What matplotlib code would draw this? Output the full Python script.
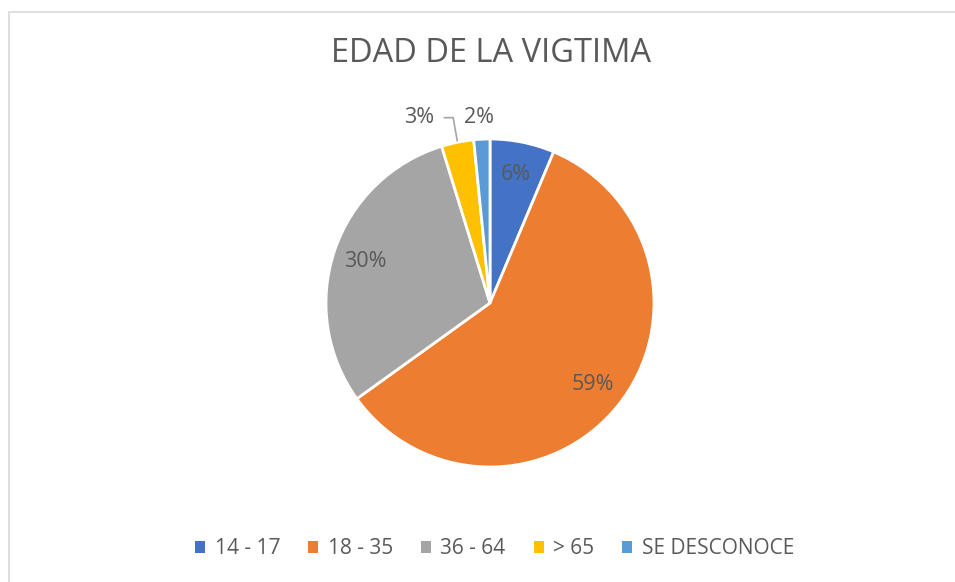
import matplotlib.pyplot as plt
import numpy as np
from matplotlib.patches import Patch, Rectangle

# Data (counts read as percentages 6/59/30/3/2)
categories = ["14 - 17", "18 - 35", "36 - 64", "> 65", "SE DESCONOCE"]
counts = [4, 37, 19, 2, 1]
colors = ["#4472C4", "#ED7D31", "#A5A5A5", "#FFC000", "#5B9BD5"]
text_color = "#595959"

plt.rcParams['font.family'] = ['Open Sans', 'DejaVu Sans']

fig = plt.figure(figsize=(9.55, 5.82), dpi=100)

# chart area border (Excel-style frame)
fig.patches.append(Rectangle((9 / 955, -0.1), 1.2, 1 - 12 / 582 + 0.1, transform=fig.transFigure,
                             fill=False, edgecolor="#D9D9D9", linewidth=1.2))

ax = fig.add_axes([326 / 955, 1 - 467 / 582, 328 / 955, 328 / 582])
wedges, _ = ax.pie(counts, colors=colors, startangle=90, counterclock=False,
                   wedgeprops=dict(edgecolor="white", linewidth=2))
ax.set_xlim(-1, 1)
ax.set_ylim(-1, 1)
ax.set_aspect("equal")
ax.axis("off")

total = sum(counts)
pcts = [round(c / total * 100) for c in counts]

# inside labels for the bigger slices
for w, p in zip(wedges[:3], pcts[:3]):
    ang = np.deg2rad((w.theta1 + w.theta2) / 2)
    ax.text(0.8 * np.cos(ang), 0.8 * np.sin(ang), f"{p}%", ha="center", va="center",
            fontsize=15.5, color=text_color)

# outside labels for the small slices
w3, w4 = wedges[3], wedges[4]
ang3 = np.deg2rad((w3.theta1 + w3.theta2) / 2)
ax.annotate(f"{pcts[3]}%", xy=(np.cos(ang3), np.sin(ang3)), xytext=(-0.43, 1.13),
            ha="center", va="center", fontsize=15.5, color=text_color,
            arrowprops=dict(arrowstyle="-", color="#A5A5A5", lw=1.2,
                            connectionstyle="angle,angleA=0,angleB=100,rad=0",
                            shrinkA=5, shrinkB=1, relpos=(1, 0.5)),
            annotation_clip=False)
ax.text(-0.07, 1.13, f"{pcts[4]}%", ha="center", va="center", fontsize=15.5,
        color=text_color, clip_on=False)

fig.text(0.514, 1 - 54 / 582, "EDAD DE LA VIGTIMA", ha="center", va="center",
         fontsize=23.5, color=text_color)

handles = [Patch(facecolor=c, edgecolor="none") for c in colors]
leg = fig.legend(handles, categories, loc="center", bbox_to_anchor=(0.518, 1 - 549 / 582),
                 ncol=5, frameon=False, fontsize=15, handlelength=0.48, handleheight=0.48,
                 handletextpad=0.45, columnspacing=1.35)
for t in leg.get_texts():
    t.set_color(text_color)

fig.savefig("out.png", dpi=100, facecolor="white")
